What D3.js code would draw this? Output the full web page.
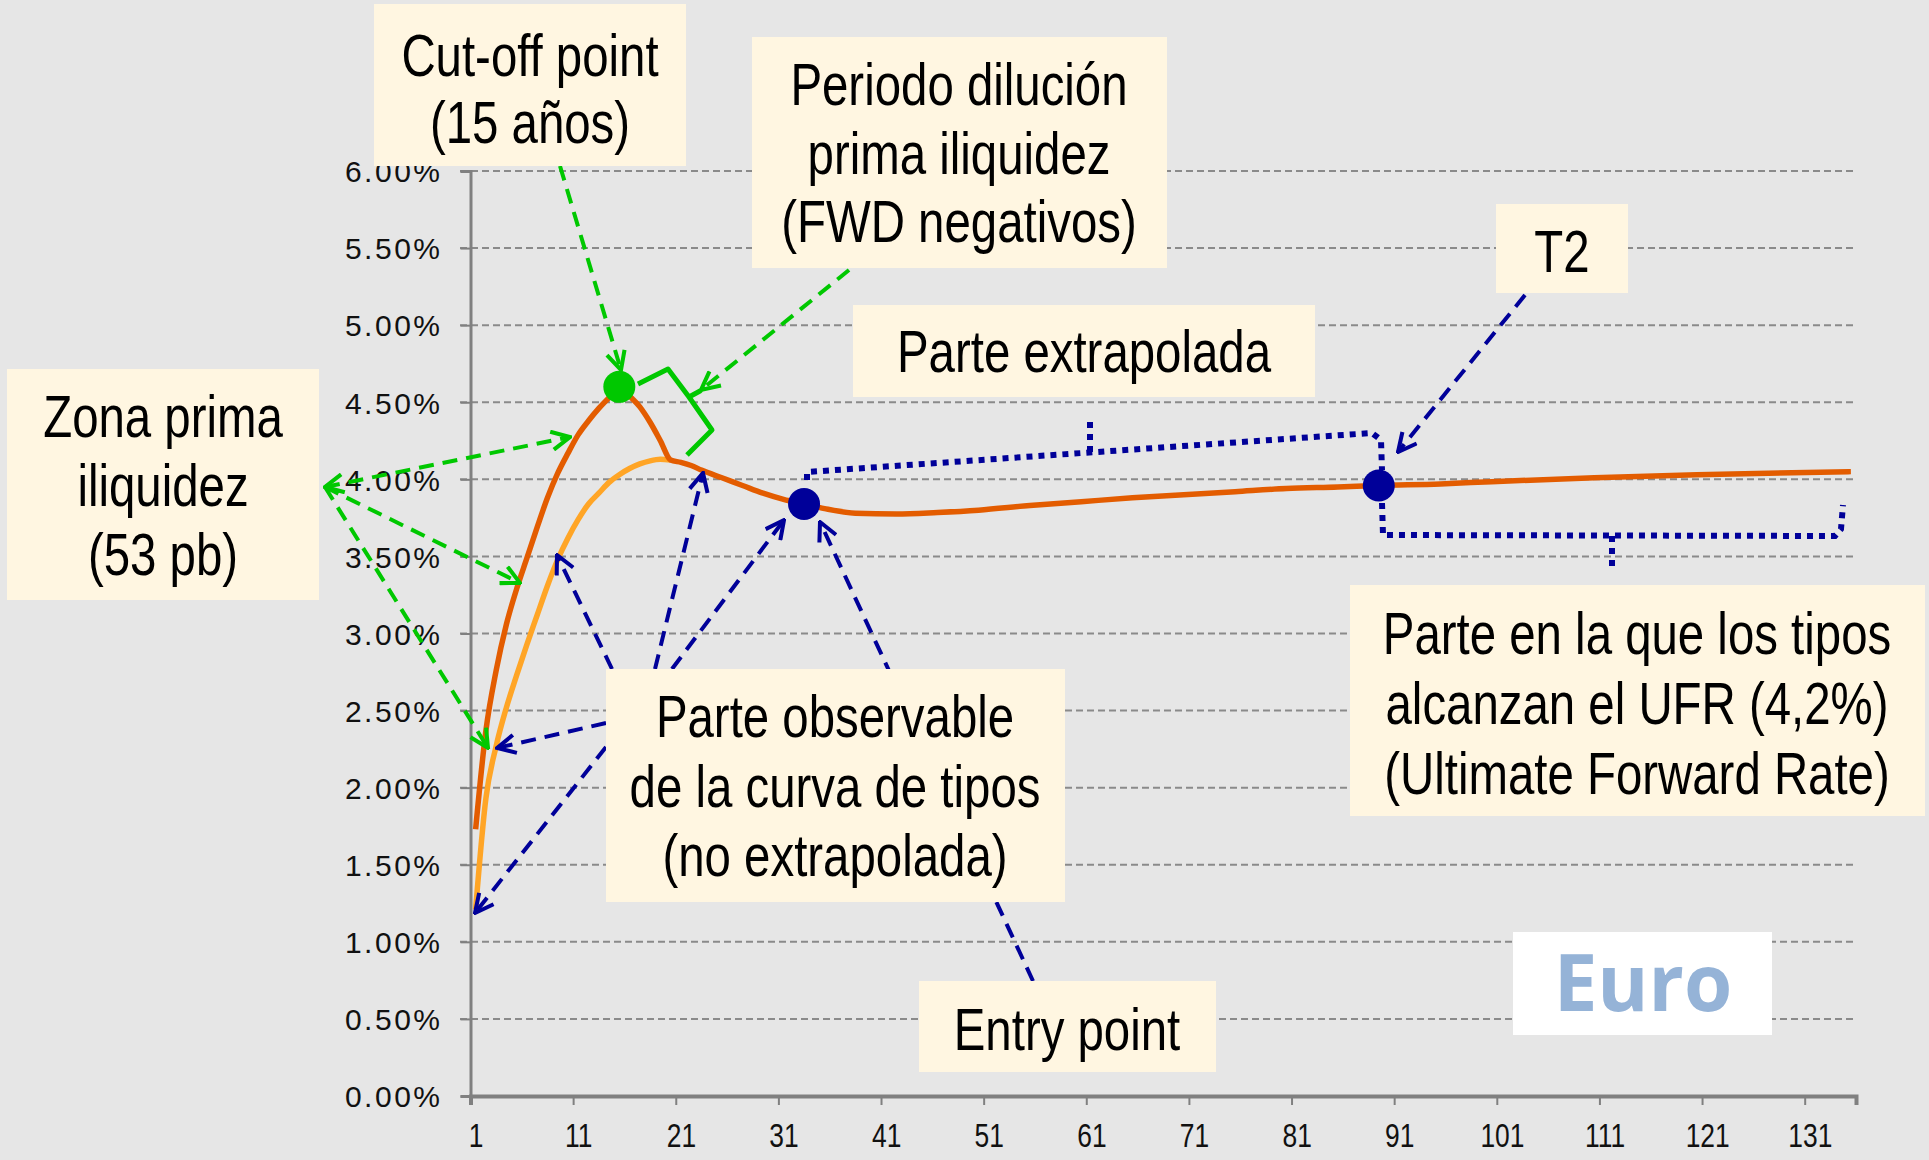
<!DOCTYPE html>
<html>
<head>
<meta charset="utf-8">
<title>Curva de tipos Euro</title>
<style type="text/css">
	body { margin: 0; background: #e6e6e6; }
	svg { display: block; }
	.ytick text { font-family: "Liberation Sans", Arial, sans-serif; font-size: 30px; letter-spacing: 2.5px; fill: #111; }
	.xlab text { font-family: "Liberation Sans", Arial, sans-serif; font-size: 33px; fill: #111; }
	.box text { font-family: "Liberation Sans", Arial, sans-serif; font-size: 60px; fill: #000; }
</style>
<script src="https://cdn.jsdelivr.net/npm/d3@7"></script>
</head>
<body>
<div id="chart"></div>
<script type="text/javascript">
// curva con prima de iliquidez (naranja oscuro), años 1..135
var mainCats = [1,2,3,4,5,6,7,8,9,10,11,12,13,14,15,16,17,18,19,20,21,22,23,25,27,29,31,33,35,38,42,46,50,55,60,65,70,75,80,85,89,95,100,110,120,135];
var mainVals = [1.73,2.37,2.76,3.06,3.29,3.49,3.69,3.88,4.04,4.17,4.29,4.38,4.46,4.53,4.60,4.54,4.47,4.37,4.25,4.125,4.11,4.09,4.06,4.01,3.96,3.91,3.87,3.84,3.81,3.78,3.775,3.785,3.80,3.83,3.855,3.88,3.90,3.92,3.94,3.95,3.96,3.97,3.985,4.01,4.03,4.05];

// curva sin prima (naranja claro), tramo observable
var baseCats = [1,2,3,4,5,6,7,8,9,10,11,12,13,14,15,16,17,18,19,20];
var baseVals = [1.21,1.93,2.27,2.52,2.73,2.93,3.12,3.31,3.48,3.62,3.74,3.84,3.91,3.98,4.03,4.07,4.10,4.12,4.13,4.125];

// puntos destacados: cut-off, entry point, T2
var cutoffCat = 15;
var entryCat = 33;
var t2Cat = 89;

var xLabels = [1,11,21,31,41,51,61,71,81,91,101,111,121,131];
var yTicks = [0,0.5,1,1.5,2,2.5,3,3.5,4,4.5,5,5.5,6];

var W = 1929, H = 1160;
var orange = '#e35c00', lightOrange = '#ffa526', green = '#00c800', navy = '#000099', cream = '#fff6e1';
var narrow = 0.79; // the slide font is a condensed one

var svg = d3.select('#chart').append('svg').attr('width', W).attr('height', H);
svg.append('rect').attr('width', W).attr('height', H).attr('fill', '#e6e6e6');

var x = d3.scaleLinear().domain([0.5, 135.5]).range([470.5, 1856]);
var y = d3.scaleLinear().domain([0, 6]).range([1096, 171]);

// markers
var defs = svg.append('defs');
function arrowMarker(id, color) {
	defs.append('marker')
		.attr('id', id)
		.attr('viewBox', '0 0 12 12')
		.attr('refX', 11).attr('refY', 6)
		.attr('markerUnits', 'userSpaceOnUse')
		.attr('markerWidth', 22).attr('markerHeight', 22)
		.attr('orient', 'auto-start-reverse')
	  .append('path')
		.attr('d', 'M1,1 L11,6 L1,11')
		.attr('fill', 'none')
		.attr('stroke', color)
		.attr('stroke-width', 2.2);
}
arrowMarker('ag', green);
arrowMarker('ab', navy);

// grid
svg.append('g').selectAll('line')
	.data(yTicks.filter(function(d){ return d > 0; }))
	.enter().append('line')
	.attr('x1', 460).attr('x2', 1856)
	.attr('y1', function(d){ return y(d); }).attr('y2', function(d){ return y(d); })
	.attr('stroke', '#8a8a8a').attr('stroke-width', 2).attr('stroke-dasharray', '7,4');

// y axis
var yAxis = svg.append('g').attr('class', 'ytick').attr('transform', 'translate(470.5,0)')
	.call(d3.axisLeft(y).tickValues(yTicks).tickSize(10).tickPadding(18)
		.tickFormat(function(d){ return d.toFixed(2) + '%'; }));
yAxis.select('.domain').attr('stroke', '#808080').attr('stroke-width', 3);
yAxis.selectAll('.tick line').attr('stroke', '#808080').attr('stroke-width', 2);
yAxis.selectAll('.tick text').attr('dy', '0.36em');

// x axis: ticks between categories, labels on categories
var xAxis = svg.append('g').attr('transform', 'translate(0,1096)')
	.call(d3.axisBottom(x).tickValues(d3.range(0.5, 131, 10)).tickSize(9).tickFormat(''));
xAxis.select('.domain').attr('stroke', '#808080').attr('stroke-width', 4);
xAxis.selectAll('.tick line').attr('stroke', '#808080').attr('stroke-width', 2);

var xLab = svg.append('g').attr('class', 'xlab').attr('transform', 'translate(0,1096)')
	.call(d3.axisBottom(x).tickValues(xLabels).tickSize(0).tickPadding(28).tickFormat(d3.format('d')));
xLab.select('.domain').remove();
xLab.selectAll('.tick text').attr('transform', 'scale(0.8,1)');

// series
var line = d3.line()
	.x(function(d){ return x(d[0]); })
	.y(function(d){ return y(d[1]); })
	.curve(d3.curveMonotoneX);

svg.append('path').datum(d3.zip(baseCats, baseVals))
	.attr('d', line).attr('fill', 'none').attr('stroke', lightOrange).attr('stroke-width', 5.5);
svg.append('path').datum(d3.zip(mainCats, mainVals))
	.attr('d', line).attr('fill', 'none').attr('stroke', orange).attr('stroke-width', 5.5)
	.attr('stroke-linejoin', 'round');

function valAt(c) { return mainVals[mainCats.indexOf(c)]; }

// annotation arrows (dashed)
var arrows = [
	// green
	{c: green, p: [[560,166],[621,370]]},
	{c: green, p: [[849,270],[701,390]]},
	{c: green, p: [[325,487],[570,437]], start: true},
	{c: green, p: [[325,487],[520,583]]},
	{c: green, p: [[325,487],[488,748]]},
	// blue
	{c: navy, p: [[606,723],[497,748]]},
	{c: navy, p: [[612,669],[557,555]]},
	{c: navy, p: [[606,747],[475,913]]},
	{c: navy, p: [[655,669],[703,473]]},
	{c: navy, p: [[672,669],[784,520]]},
	{c: navy, p: [[1033,981],[820,522]]},
	{c: navy, p: [[1525,295],[1398,452]]}
];
arrows.forEach(function(a){
	var pth = svg.append('path')
		.attr('d', d3.line()(a.p))
		.attr('fill', 'none')
		.attr('stroke', a.c)
		.attr('stroke-width', 4)
		.attr('stroke-dasharray', '15,9')
		.attr('marker-end', 'url(#' + (a.c == green ? 'ag' : 'ab') + ')');
	if (a.start) pth.attr('marker-start', 'url(#ag)');
});

// green brace (periodo dilucion)
svg.append('path')
	.attr('d', d3.line()([[638,384],[668,369],[689,397],[700,391],[689,397],[712,430],[687,455]]))
	.attr('fill', 'none').attr('stroke', green).attr('stroke-width', 5).attr('stroke-linejoin', 'round');

// dotted blue brackets
var brackets = [
	[[807,480],[807,472],[1372,433],[1381,440],[1382,470]],
	[[1090,452],[1090,422]],
	[[1382,503],[1383,535],[1835,536],[1841,529],[1843,505]],
	[[1612,536],[1612,566]]
];
brackets.forEach(function(b){
	svg.append('path')
		.attr('d', d3.line()(b))
		.attr('fill', 'none').attr('stroke', navy)
		.attr('stroke-width', 6).attr('stroke-dasharray', '6,6');
});

// points
svg.append('circle').attr('cx', x(cutoffCat)).attr('cy', y(valAt(cutoffCat))).attr('r', 16).attr('fill', green);
[entryCat, t2Cat].forEach(function(c){
	svg.append('circle').attr('cx', x(c)).attr('cy', y(valAt(c))).attr('r', 16).attr('fill', navy);
});

// text boxes
var boxes = [
	{x:374, y:4, w:312, h:162, cx:530, b:[76,143], lines:['Cut-off point','(15 años)']},
	{x:752, y:37, w:415, h:231, cx:959, b:[105,174,242], lines:['Periodo dilución','prima iliquidez','(FWD negativos)']},
	{x:1496, y:204, w:132, h:89, cx:1562, b:[272], lines:['T2']},
	{x:853, y:305, w:462, h:92, cx:1084, b:[372], lines:['Parte extrapolada']},
	{x:7, y:369, w:312, h:231, cx:163, b:[437,506,575], lines:['Zona prima','iliquidez','(53 pb)']},
	{x:606, y:669, w:459, h:233, cx:835, b:[737,807,876], lines:['Parte observable','de la curva de tipos','(no extrapolada)']},
	{x:1350, y:585, w:575, h:231, cx:1637, b:[654,724,794], lines:['Parte en la que los tipos','alcanzan el UFR (4,2%)','(Ultimate Forward Rate)']},
	{x:919, y:981, w:297, h:91, cx:1067, b:[1050], lines:['Entry point']}
];
boxes.forEach(function(bx){
	var g = svg.append('g').attr('class', 'box');
	g.append('rect').attr('x', bx.x).attr('y', bx.y).attr('width', bx.w).attr('height', bx.h).attr('fill', cream);
	bx.lines.forEach(function(t, i){
		g.append('text')
			.attr('transform', 'translate(' + bx.cx + ',' + bx.b[i] + ') scale(' + narrow + ',1)')
			.attr('text-anchor', 'middle').text(t);
	});
});

// Euro label
svg.append('rect').attr('x', 1513).attr('y', 932).attr('width', 259).attr('height', 103).attr('fill', '#fff');
svg.append('text').attr('x', 1643).attr('y', 1011).attr('text-anchor', 'middle')
	.style('font-family', '"Open Sans", sans-serif').style('font-weight', 700).style('font-size', '78px')
	.attr('fill', '#95b3d7').text('Euro');
</script>
</body>
</html>
